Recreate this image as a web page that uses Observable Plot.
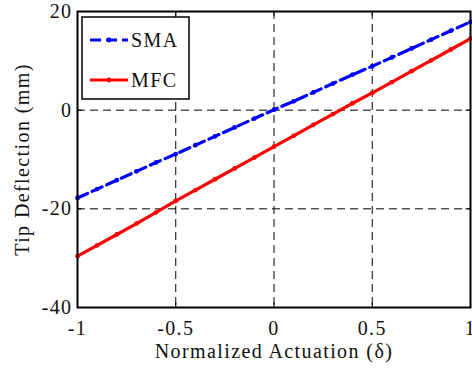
<!DOCTYPE html>
<html>
<head>
<meta charset="utf-8">
<script src="https://cdn.jsdelivr.net/npm/d3@7"></script>
<script src="https://cdn.jsdelivr.net/npm/@observablehq/plot@0.6"></script>
<style>
  html, body { margin: 0; padding: 0; background: #fff; }
  #chart { width: 472px; height: 368px; }
  #chart svg text { letter-spacing: 1.4px; }
</style>
</head>
<body>
<div id="chart"></div>
<script>
// Normalized actuation (δ) sample points
const actuation = [-1, -0.9, -0.8, -0.7, -0.6, -0.5, -0.4, -0.3, -0.2, -0.1, 0,
                   0.1, 0.2, 0.3, 0.4, 0.5, 0.6, 0.7, 0.8, 0.9, 1];
// Tip deflection (mm) for each actuator
const smaDeflection = [-17.8, -16.0, -14.2, -12.4, -10.6, -8.9, -7.1, -5.3, -3.5, -1.7, 0.1,
                       1.8, 3.6, 5.4, 7.2, 8.9, 10.7, 12.5, 14.3, 16.1, 17.9];
const mfcDeflection = [-29.6, -27.4, -25.2, -23.0, -20.7, -18.4, -16.2, -14.0, -11.8, -9.6, -7.4,
                       -5.2, -3.0, -0.8, 1.4, 3.5, 5.7, 7.9, 10.1, 12.3, 14.5];
const seriesNames = ["SMA", "MFC"];
const seriesColors = ["#0000ff", "#ff0000"];

const xTicks = [-1, -0.5, 0, 0.5, 1];
const yTicks = [-40, -20, 0, 20];
const xGrid = [-0.5, 0, 0.5];
const yGrid = [-20, 0];

const sma = actuation.map((x, i) => ({x, y: smaDeflection[i]}));
const mfc = actuation.map((x, i) => ({x, y: mfcDeflection[i]}));

const xDom = [-1, 1], yDom = [-40, 20];
const tickLenX = 0.024, tickLenY = 1.0;
const FONT = "Liberation Serif, Times New Roman, serif";

const plot = Plot.plot({
  width: 472,
  height: 368,
  marginLeft: 77,
  marginRight: 2,
  marginTop: 11,
  marginBottom: 61,
  style: {fontSize: "20px", fontFamily: FONT, color: "#111", background: "#fff"},
  x: {domain: xDom, ticks: xTicks, tickFormat: d => String(d), label: null},
  y: {domain: yDom, ticks: yTicks, tickFormat: d => String(d), label: null},
  marks: [
    // dashed grid
    Plot.ruleX(xGrid, {stroke: "#000", strokeWidth: 1, strokeDasharray: "8,5"}),
    Plot.ruleY(yGrid, {stroke: "#000", strokeWidth: 1, strokeDasharray: "8,5"}),
    // series
    Plot.line(sma, {x: "x", y: "y", stroke: seriesColors[0], strokeWidth: 3.2, strokeDasharray: "11,5"}),
    Plot.dot(sma, {x: "x", y: "y", r: 2.4, fill: seriesColors[0]}),
    Plot.line(mfc, {x: "x", y: "y", stroke: seriesColors[1], strokeWidth: 3.2}),
    Plot.dot(mfc, {x: "x", y: "y", r: 2.4, fill: seriesColors[1]}),
    // inward ticks on all four sides
    Plot.ruleX(xTicks, {y1: yDom[0], y2: yDom[0] + tickLenY, stroke: "#000", strokeWidth: 1}),
    Plot.ruleX(xTicks, {y1: yDom[1], y2: yDom[1] - tickLenY, stroke: "#000", strokeWidth: 1}),
    Plot.ruleY(yTicks, {x1: xDom[0], x2: xDom[0] + tickLenX, stroke: "#000", strokeWidth: 1}),
    Plot.ruleY(yTicks, {x1: xDom[1], x2: xDom[1] - tickLenX, stroke: "#000", strokeWidth: 1}),
    Plot.frame({stroke: "#000", strokeWidth: 2}),
    Plot.axisX({ticks: xTicks, tickSize: 0, tickPadding: 13, tickFormat: d => String(d),
      label: "Normalized Actuation (δ)", labelAnchor: "center", labelOffset: 50, labelArrow: "none",
      fontSize: 20, fontFamily: FONT}),
    Plot.axisY({ticks: yTicks, tickSize: 0, tickPadding: 5, tickFormat: d => String(d),
      label: "Tip Deflection (mm)", labelAnchor: "center", labelOffset: 63, labelArrow: "none",
      fontSize: 20, fontFamily: FONT})
  ]
});

document.getElementById("chart").appendChild(plot);

// Legend box in the upper-left corner of the plot area
const svg = d3.select(plot);
const lx = 82, ly = 17, lw = 107, lh = 82;
const g = svg.append("g").attr("text-anchor", "start");
g.append("rect").attr("x", lx).attr("y", ly).attr("width", lw).attr("height", lh)
  .attr("fill", "#fff").attr("stroke", "#000").attr("stroke-width", 1.5);
seriesNames.forEach((name, i) => {
  const cy = ly + 23 + i * 40;
  g.append("line").attr("x1", lx + 8).attr("x2", lx + 46).attr("y1", cy).attr("y2", cy)
    .attr("stroke", seriesColors[i]).attr("stroke-width", 3.2)
    .attr("stroke-dasharray", i === 0 ? "11,5" : null);
  g.append("circle").attr("cx", lx + 27).attr("cy", cy).attr("r", 2.4).attr("fill", seriesColors[i]);
  g.append("text").attr("x", lx + 49).attr("y", cy).attr("dy", "0.35em")
    .style("font-family", FONT).style("font-size", "20px").attr("fill", "#111").text(name);
});
</script>
</body>
</html>
